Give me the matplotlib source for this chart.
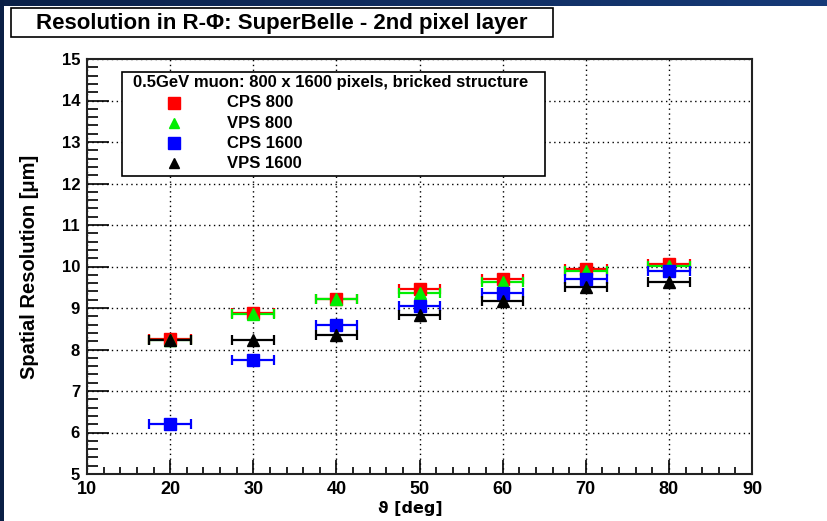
import numpy as np
import matplotlib
matplotlib.use("Agg")
import matplotlib.pyplot as plt
from matplotlib.patches import Rectangle
from matplotlib.ticker import MultipleLocator

# polar angle bins [deg] and half-width of each bin
theta = [20, 30, 40, 50, 60, 70, 80]
theta_err = 2.5

# spatial resolution in R-phi [um]
cps_800 = [8.26, 8.89, 9.22, 9.45, 9.69, 9.94, 10.05]
vps_800 = [8.23, 8.85, 9.21, 9.36, 9.62, 9.90, 10.02]
cps_1600 = [6.20, 7.74, 8.58, 9.05, 9.36, 9.70, 9.88]
vps_1600 = [8.24, 8.23, 8.36, 8.84, 9.17, 9.51, 9.63]

names = ["CPS 800", "VPS 800", "CPS 1600", "VPS 1600"]
colors = ["#ff0000", "#00ee00", "#0000ff", "#000000"]
markers = ["s", "^", "s", "^"]

title = "Resolution in R-\u03a6: SuperBelle - 2nd pixel layer"
header = "0.5GeV muon: 800 x 1600 pixels, bricked structure"

W, H = 827, 521
plt.rcParams['font.family'] = ['Liberation Sans', 'DejaVu Sans']
plt.rcParams['font.weight'] = 'bold'

fig = plt.figure(figsize=(W / 100, H / 100), dpi=100, facecolor="white")


def fx(x):
    return x / W


def fy(y):
    return 1 - y / H


# dark canvas border along the top and left edges
band = fig.add_axes([0, fy(6), 1, 6 / H])
band.imshow(np.linspace(0, 1, 256)[None, :], aspect="auto", extent=[0, 1, 0, 1],
            cmap=matplotlib.colors.LinearSegmentedColormap.from_list("b", ["#0b2148", "#163a78"]))
band.axis("off")
fig.patches.append(Rectangle((0, 0), fx(4), 1, transform=fig.transFigure,
                             facecolor="#0a1f45", edgecolor="none", zorder=5))

ax = fig.add_axes([fx(87), fy(474), fx(752) - fx(87), fy(59) - fy(474)])
ax.set_xlim(10, 90)
ax.set_ylim(5, 15)

series = [cps_800, vps_800, cps_1600, vps_1600]
for vals, c, m in zip(series, colors, markers):
    ax.errorbar(theta, vals, xerr=theta_err, fmt=m, color=c, ecolor=c,
                ms=8.5 if m == "s" else 8, mec=c, elinewidth=1.6, capsize=3.5,
                capthick=1.6, zorder=3)

ax.xaxis.set_major_locator(MultipleLocator(10))
ax.xaxis.set_minor_locator(MultipleLocator(2))
ax.yaxis.set_major_locator(MultipleLocator(1))
ax.yaxis.set_minor_locator(MultipleLocator(0.2))
ax.tick_params(axis="x", which="major", direction="in", length=10, width=1.2,
               labelsize=13, pad=5)
ax.tick_params(axis="x", which="minor", direction="in", length=5, width=1.2)
ax.tick_params(axis="y", which="major", direction="in", length=16, width=1.2,
               labelsize=12, pad=5)
ax.tick_params(axis="y", which="minor", direction="in", length=8, width=1.2)
for lab in ax.get_xticklabels() + ax.get_yticklabels():
    lab.set_fontweight("bold")

ax.grid(True, which="major", color="black", linestyle=(0, (1, 2.5)), linewidth=1)
ax.set_axisbelow(True)
for sp in ax.spines.values():
    sp.set_linewidth(1.5)
    sp.set_color("#222222")

ax.set_xlabel("\u03d1 [deg]", fontsize=11.5, fontweight="bold",
              family=['DejaVu Sans'])
ax.xaxis.set_label_coords((fx(410) - fx(87)) / (fx(752) - fx(87)), -0.065)
ax.set_ylabel("Spatial Resolution [\u03bcm]", fontsize=14.5, fontweight="bold")
ax.yaxis.set_label_coords(-(fx(87) - fx(39)) / (fx(752) - fx(87)), 0.5)

# title box
fig.patches.append(Rectangle((fx(11), fy(37)), fx(553) - fx(11), fy(8) - fy(37),
                             transform=fig.transFigure, facecolor="white",
                             edgecolor="black", linewidth=1.2))
fig.text(fx(282), fy(23), title, ha="center", va="center", fontsize=16,
         fontweight="bold")

# legend box
fig.patches.append(Rectangle((fx(122), fy(176)), fx(545) - fx(122), fy(72) - fy(176),
                             transform=fig.transFigure, facecolor="white",
                             edgecolor="black", linewidth=1.2, zorder=4))
fig.text(fx(331), fy(83), header, ha="center", va="center", fontsize=12,
         fontweight="bold", zorder=6)
for i, (name, c, m) in enumerate(zip(names, colors, markers)):
    yy = 103 + 20 * i
    fig.lines.append(plt.Line2D([fx(174)], [fy(yy)], marker=m, color=c, mec=c,
                                ms=8.5 if m == "s" else 7, linestyle="none",
                                transform=fig.transFigure, zorder=6))
    fig.text(fx(227), fy(yy), name, ha="left", va="center", fontsize=12,
             fontweight="bold", zorder=6)

fig.savefig("out.png", dpi=100, facecolor="white")
